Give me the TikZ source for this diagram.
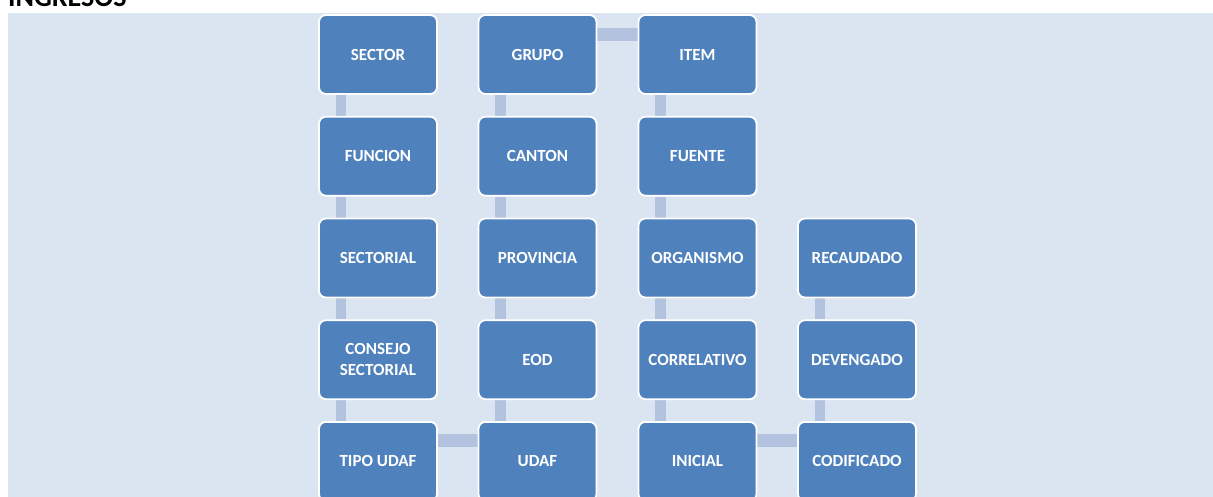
\documentclass[tikz,border=0pt]{standalone}
\usepackage{fontspec}
\setmainfont{Carlito}
\usetikzlibrary{backgrounds}
\definecolor{bgblue}{HTML}{DBE5F1}
\definecolor{boxblue}{HTML}{4F81BD}
\definecolor{connblue}{HTML}{B3C2DE}
\tikzset{
  boxnode/.style={draw=white, line width=1.8pt, fill=boxblue, rounded corners=7pt,
    minimum width=118pt, minimum height=79pt, inner sep=0pt, text=white,
    font=\fontsize{17}{21.5}\selectfont\bfseries, align=center},
  vconn/.style={draw=connblue, line width=10.5pt},
  hconn/.style={draw=connblue, line width=13pt},
}
\begin{document}
\begin{tikzpicture}[x=1pt,y=-1pt]
\useasboundingbox (0,0) rectangle (1213,497);
\node[anchor=base west, inner sep=0pt, font=\fontsize{28}{30}\selectfont\bfseries] (title) at (8,7) {INGRESOS};
% column 1
\node[boxnode] (sector) at (378,54.5) {SECTOR};
\node[boxnode] (funcion) at (378,156.2) {FUNCION};
\node[boxnode] (sectorial) at (378,258) {SECTORIAL};
\node[boxnode] (consejo) at (378,359.7) {CONSEJO\\SECTORIAL};
\node[boxnode] (tipoudaf) at (378,461.4) {TIPO UDAF};
% column 2
\node[boxnode] (grupo) at (537.5,54.5) {GRUPO};
\node[boxnode] (canton) at (537.5,156.2) {CANTON};
\node[boxnode] (provincia) at (537.5,258) {PROVINCIA};
\node[boxnode] (eod) at (537.5,359.7) {EOD};
\node[boxnode] (udaf) at (537.5,461.4) {UDAF};
% column 3
\node[boxnode] (item) at (697.5,54.5) {ITEM};
\node[boxnode] (fuente) at (697.5,156.2) {FUENTE};
\node[boxnode] (organismo) at (697.5,258) {ORGANISMO};
\node[boxnode] (correlativo) at (697.5,359.7) {CORRELATIVO};
\node[boxnode] (inicial) at (697.5,461.4) {INICIAL};
% column 4
\node[boxnode] (recaudado) at (857,258) {RECAUDADO};
\node[boxnode] (devengado) at (857,359.7) {DEVENGADO};
\node[boxnode] (codificado) at (857,461.4) {CODIFICADO};
\begin{scope}[on background layer]
\fill[bgblue] (8,13) rectangle (1213,497);
\foreach \a/\b in {sector/funcion, funcion/sectorial, sectorial/consejo, consejo/tipoudaf,
  grupo/canton, canton/provincia, provincia/eod, eod/udaf,
  item/fuente, fuente/organismo, organismo/correlativo, correlativo/inicial,
  recaudado/devengado, devengado/codificado}
  \draw[vconn] ([xshift=-37pt]\a.south) -- ([xshift=-37pt]\b.north);
\draw[hconn] ([yshift=21pt]tipoudaf.east) -- ([yshift=21pt]udaf.west);
\draw[hconn] ([yshift=20pt]grupo.east) -- ([yshift=20pt]item.west);
\draw[hconn] ([yshift=21pt]inicial.east) -- ([yshift=21pt]codificado.west);
\end{scope}
\end{tikzpicture}
\end{document}
